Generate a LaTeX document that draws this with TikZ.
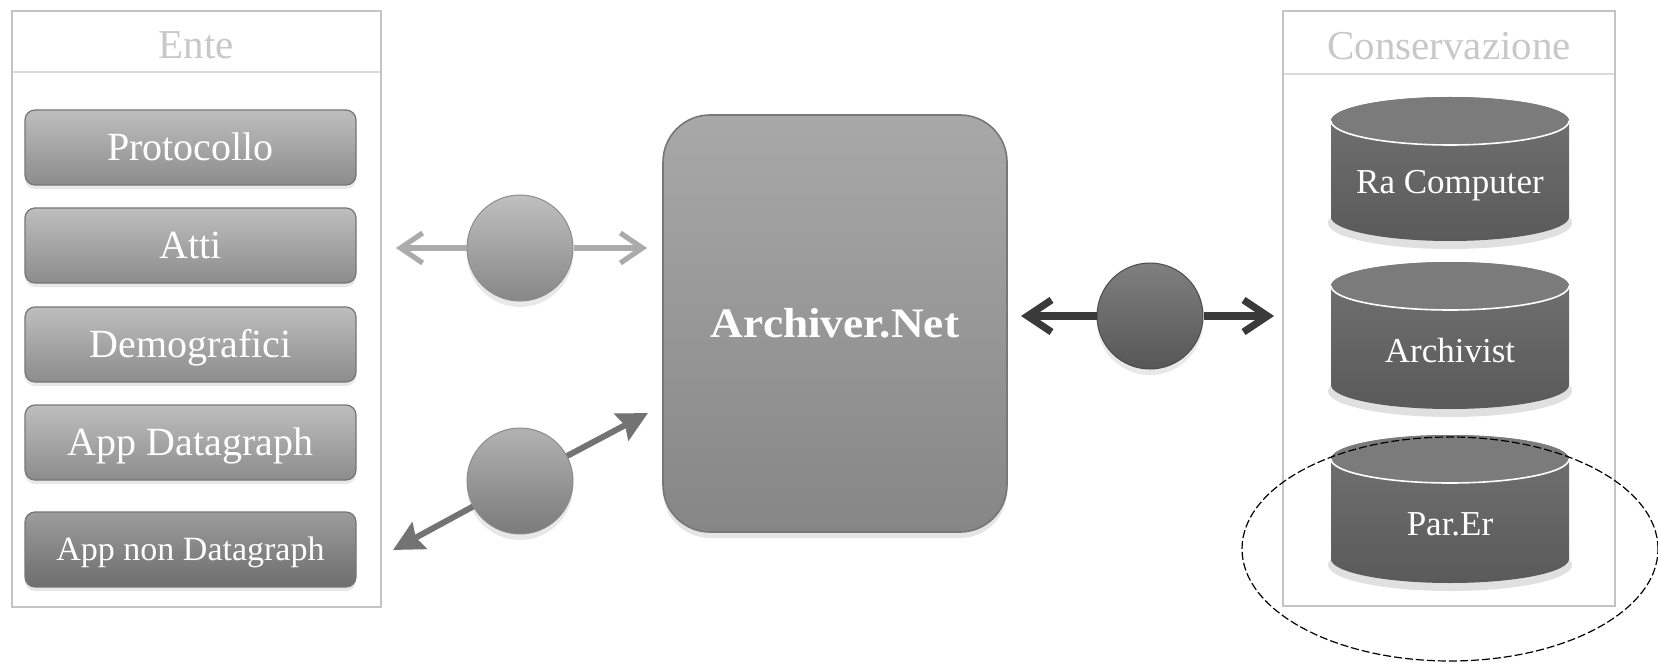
\documentclass[tikz,border=0pt]{standalone}
\usepackage{fontspec}
\setmainfont{Liberation Serif}
\usetikzlibrary{arrows.meta,shadows,calc}
\definecolor{frameC}{HTML}{C4C4C4}
\definecolor{hlineC}{HTML}{DADADA}
\definecolor{hdrC}{HTML}{C8C8C8}
\definecolor{btnTop}{HTML}{BEBEBE}
\definecolor{btnBot}{HTML}{8C8C8C}
\definecolor{btnEdge}{HTML}{767676}
\definecolor{btnDTop}{HTML}{9C9C9C}
\definecolor{btnDBot}{HTML}{6E6E6E}
\definecolor{archTop}{HTML}{A8A8A8}
\definecolor{archBot}{HTML}{868686}
\definecolor{archEdge}{HTML}{777777}
\definecolor{cylA}{HTML}{727272}
\definecolor{cylB}{HTML}{5A5A5A}
\definecolor{cylTopC}{HTML}{7B7B7B}
\definecolor{arrL}{HTML}{ABABAB}
\definecolor{arrM}{HTML}{737373}
\definecolor{arrD}{HTML}{3A3A3A}
\newcommand\dbcyl[6]{%
  \fill[black,opacity=0.12] (#1,#3+6) ellipse[x radius=61pt,y radius=13pt];
  \shade[top color=cylA,bottom color=cylB]
    (#1-119,#2) -- (#1-119,#3)
    arc[start angle=180,end angle=360,x radius=59.5pt,y radius=12pt]
    -- (#1+119,#2)
    arc[start angle=0,end angle=180,x radius=59.5pt,y radius=12pt] -- cycle;
  \fill[cylTopC] (#1,#2) ellipse[x radius=59.5pt,y radius=12pt];
  \draw[white,line width=0.8pt] (#1-119,#2)
    arc[start angle=180,end angle=360,x radius=59.5pt,y radius=12pt];
  \node[cyltext] (#4) at (#1,#6) {#5};
}
\begin{document}
\begin{tikzpicture}[x=0.5pt,y=-0.5pt,
  frame/.style={draw=frameC,line width=1pt,fill=white},
  hline/.style={draw=hlineC,line width=1.2pt},
  hdr/.style={text=hdrC,font=\fontsize{20.5}{24}\selectfont,inner sep=0pt},
  btn/.style={rectangle,rounded corners=5pt,draw=btnEdge,line width=0.6pt,
    top color=btnTop,bottom color=btnBot,minimum width=165.5pt,minimum height=37.5pt,
    text=white,font=\fontsize{20}{24}\selectfont,text height=13.4pt,text depth=0pt,
    drop shadow={opacity=0.18,shadow xshift=0pt,shadow yshift=-2pt}},
  btndark/.style={btn,top color=btnDTop,bottom color=btnDBot,
    font=\fontsize{17}{20}\selectfont,text height=11.3pt},
  archbox/.style={rectangle,rounded corners=23.5pt,draw=archEdge,line width=0.8pt,
    top color=archTop,bottom color=archBot,minimum width=172pt,minimum height=208.5pt,
    text=white,drop shadow={opacity=0.2,shadow xshift=0pt,shadow yshift=-3pt}},
  ballL/.style={circle,minimum size=53pt,inner sep=0pt,draw=black!45,line width=0.5pt,
    top color=black!25,bottom color=black!47,
    drop shadow={opacity=0.18,shadow xshift=0pt,shadow yshift=-3pt}},
  ballM/.style={ballL,top color=black!30,bottom color=black!52},
  ballD/.style={ballL,draw=black!70,top color=black!50,bottom color=black!66},
  cyltext/.style={text=white,font=\fontsize{17.5}{20}\selectfont,inner sep=0pt},
  conL/.style={draw=arrL,line width=2.6pt,-{Straight Barb[length=11pt,width=15pt]}},
  conM/.style={draw=arrM,line width=3pt,-{Stealth[length=15pt,width=15pt,inset=2pt]}},
  conD/.style={draw=arrD,line width=3.6pt,-{Straight Barb[length=12pt,width=16pt]}},
  hilite/.style={draw=black,line width=0.6pt,dash pattern=on 4pt off 1.5pt}
]
\useasboundingbox (0,0) rectangle (1658,663);
\fill[white] (0,0) rectangle (1658,663);

% Ente container
\draw[frame] (12,11) rectangle (381,607);
\draw[hline] (13,72) -- (380,72);
\node[hdr] (ente) at (196.5,45) {Ente};

\node[btn] (prot) at (190.5,147.5) {Protocollo};
\node[btn] (atti) at (190.5,245.5) {Atti};
\node[btn] (demo) at (190.5,344.5) {Demografici};
\node[btn] (appd) at (190.5,442.5) {App Datagraph};
\node[btndark] (appn) at (190.5,549.5) {App non Datagraph};

% Conservazione container
\draw[frame] (1283,11) rectangle (1615,606);
\draw[hline] (1284,74) -- (1614,74);
\node[hdr] (cons) at (1449,46) {Conservazione};

\dbcyl{1450}{121}{217}{rc}{Ra Computer}{186}
\dbcyl{1450}{286}{385}{arv}{Archivist}{351}
\dbcyl{1450}{459}{559}{pe}{Par.Er}{524}

% central box
\node[archbox] (arch) at (835,323.5) {\fontsize{21}{24}\selectfont\bfseries\scalebox{1.08}[1]{Archiver.Net}};

% connector balls
\node[ballL] (c1) at (520,248) {};
\node[ballM] (c2) at (520,481) {};
\node[ballD] (c3) at (1150,316) {};

\coordinate (a1l) at (396,248);
\coordinate (a1r) at (647,248);
\coordinate (a2u) at (648,413);
\coordinate (a2d) at (393,550);
\coordinate (a3l) at (1021,316);
\coordinate (a3r) at (1274,316);

\draw[conL] (c1) -- (a1l);
\draw[conL] (c1) -- (a1r);
\draw[conM] (c2) -- (a2u);
\draw[conM] (c2) -- (a2d);
\draw[conD] (c3) -- (a3l);
\draw[conD] (c3) -- (a3r);

% highlight ellipse
\draw[hilite] (1450,549) ellipse[x radius=104pt,y radius=56pt];
\end{tikzpicture}
\end{document}
